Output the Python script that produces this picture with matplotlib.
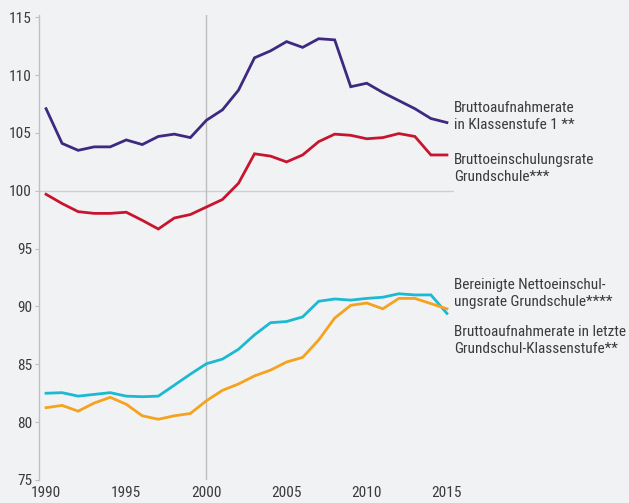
import matplotlib
matplotlib.use("Agg")
import matplotlib.pyplot as plt
from matplotlib import font_manager
from matplotlib.font_manager import FontProperties
import os

years = list(range(1990, 2016))

brutto_aufnahme_k1 = [107.1, 104.1, 103.5, 103.8, 103.8, 104.4, 104.0, 104.7, 104.9, 104.6,
                      106.1, 107.0, 108.7, 111.5, 112.1, 112.9, 112.4, 113.15, 113.05, 109.0,
                      109.3, 108.5, 107.8, 107.1, 106.25, 105.9]
brutto_einschulung = [99.7, 98.9, 98.2, 98.05, 98.05, 98.15, 97.45, 96.7, 97.65, 97.95,
                      98.6, 99.25, 100.65, 103.2, 103.0, 102.5, 103.1, 104.25, 104.9, 104.8,
                      104.5, 104.6, 104.95, 104.7, 103.1, 103.1]
netto_einschulung = [82.5, 82.55, 82.25, 82.4, 82.55, 82.25, 82.2, 82.25, 83.2, 84.15,
                     85.05, 85.45, 86.3, 87.55, 88.6, 88.7, 89.1, 90.45, 90.65, 90.55,
                     90.7, 90.8, 91.1, 91.0, 91.0, 89.4]
brutto_letzte = [81.25, 81.45, 80.95, 81.65, 82.15, 81.55, 80.55, 80.25, 80.55, 80.75,
                 81.85, 82.75, 83.3, 84.0, 84.5, 85.2, 85.6, 87.1, 89.0, 90.1,
                 90.3, 89.8, 90.7, 90.7, 90.25, 89.8]

labels = ["Bruttoaufnahmerate\nin Klassenstufe 1 **",
          "Bruttoeinschulungsrate\nGrundschule***",
          "Bereinigte Nettoeinschul-\nungsrate Grundschule****",
          "Bruttoaufnahmerate in letzte\nGrundschul-Klassenstufe**"]
label_y = [106.4, 101.95, 91.15, 87.05]

x_ticks = [1990, 1995, 2000, 2005, 2010, 2015]
y_ticks = [75, 80, 85, 90, 95, 100, 105, 110, 115]

colors = ["#3d2a80", "#c8152f", "#1cb9d2", "#f6a21e"]
bg = "#f1f2f4"
txt = "#3a3a3a"

# pick a condensed sans font if one is installed
prefs = ["robotocondensed-regular", "opensans_condensed-regular", "opensans-condensedregular",
         "notosans-condensed.", "notosans-condensedregular", "liberationsansnarrow-regular",
         "dejavusanscondensed."]
files = [f.fname for f in font_manager.fontManager.ttflist]
chosen = None
for p in prefs:
    for fn in files:
        if p in os.path.basename(fn).lower():
            chosen = fn
            break
    if chosen:
        break
if chosen is None:
    for fn in files:
        b = os.path.basename(fn).lower()
        if ("condensed" in b or "narrow" in b) and "bold" not in b and "italic" not in b \
                and "oblique" not in b and "light" not in b and "semi" not in b:
            chosen = fn
            break

if chosen:
    fp = FontProperties(fname=chosen, size=11)
else:
    fp = FontProperties(family="Roboto", size=10)

fig = plt.figure(figsize=(6.29, 5.03), dpi=100, facecolor=bg)
ax = fig.add_axes([39/629, 23/503, (454-39)/629, (480-15)/503], facecolor=bg)

series = [brutto_aufnahme_k1, brutto_einschulung, netto_einschulung, brutto_letzte]
ax.axhline(100, color="#cfcfcf", lw=1.0, zorder=1)
ax.axvline(2000, color="#bdbdbd", lw=1.0, zorder=1)
for s, c in zip(series, colors):
    ax.plot(years, s, color=c, lw=2.0, zorder=3, solid_joinstyle="miter")

ax.set_xlim(1989.56, 2015.44)
ax.set_ylim(75, 115.2)
ax.set_xticks(x_ticks)
ax.set_xticklabels([str(v) for v in x_ticks], fontproperties=fp, color=txt)
ax.set_yticks(y_ticks)
ax.set_yticklabels([str(v) for v in y_ticks], fontproperties=fp, color=txt)
ax.tick_params(axis="x", length=0, pad=4)
ax.tick_params(axis="y", length=3, width=0.8, color="#c0c0c0", pad=2)
for sp in ["top", "right", "bottom"]:
    ax.spines[sp].set_visible(False)
ax.spines["left"].set_color("#c0c0c0")
ax.spines["left"].set_linewidth(1.0)

for lab, ly in zip(labels, label_y):
    ax.annotate(lab, xy=(1, ly), xycoords=("axes fraction", "data"), xytext=(0, 0),
                textcoords="offset points", ha="left", va="center", fontproperties=fp,
                color=txt, linespacing=1.25, annotation_clip=False)

fig.savefig("out.png", dpi=100, facecolor=bg)
